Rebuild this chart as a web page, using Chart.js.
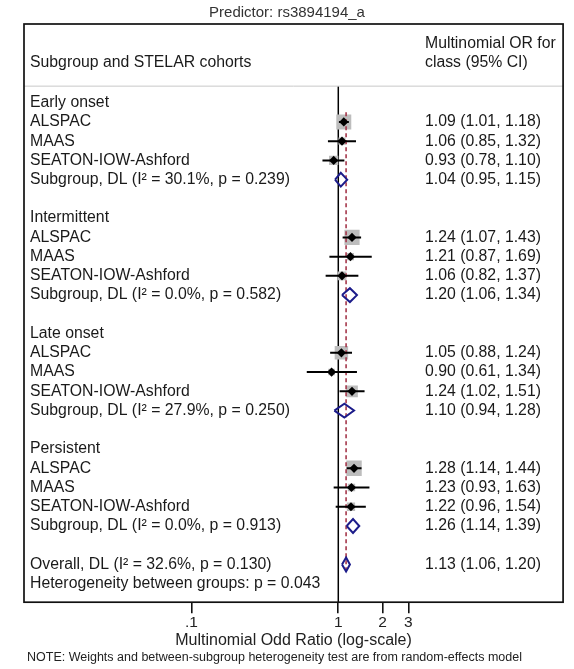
<!DOCTYPE html>
<html><head><meta charset="utf-8">
<script src="https://cdn.jsdelivr.net/npm/chart.js@4/dist/chart.umd.min.js"></script>
<style>html,body{margin:0;padding:0;background:#fff}#wrap{width:574px;height:669px;position:relative}</style>
</head><body><div id="wrap"><canvas id="c"></canvas></div>
<script>
// ---------- data ----------
const titleText = 'Predictor: rs3894194_a';
const headerLeft = 'Subgroup and STELAR cohorts';
const headerRight = ['Multinomial OR for', 'class (95% CI)'];
const groups = ['Early onset', 'Intermittent', 'Late onset', 'Persistent'];
const cohorts = ['ALSPAC', 'MAAS', 'SEATON-IOW-Ashford'];
const studyOR = [[1.09, 1.06, 0.93], [1.24, 1.21, 1.06], [1.05, 0.90, 1.24], [1.28, 1.23, 1.22]];
const studyLo = [[1.01, 0.85, 0.78], [1.07, 0.87, 0.82], [0.88, 0.61, 1.02], [1.14, 0.93, 0.96]];
const studyHi = [[1.18, 1.32, 1.10], [1.43, 1.69, 1.37], [1.24, 1.34, 1.51], [1.44, 1.63, 1.54]];
const studyWeight = [[62, 14, 24], [64, 14, 22], [50, 12, 38], [66, 15, 19]];
const subOR = [1.04, 1.20, 1.10, 1.26];
const subLo = [0.95, 1.06, 0.94, 1.14];
const subHi = [1.15, 1.34, 1.28, 1.39];
const subI2 = ['30.1', '0.0', '27.9', '0.0'];
const subP = ['0.239', '0.582', '0.250', '0.913'];
const overallOR = 1.13, overallLo = 1.06, overallHi = 1.20;
const overallI2 = '32.6', overallP = '0.130';
const hetP = '0.043';
const xTickValues = [0.1, 1, 2, 3];
const xTickLabels = ['.1', '1', '2', '3'];
const xTitle = 'Multinomial Odd Ratio (log-scale)';
const noteText = 'NOTE: Weights and between-subgroup heterogeneity test are from random-effects model';

// ---------- layout helpers ----------
const FONT = '"Liberation Sans", Arial, Helvetica, sans-serif';
const ROWS_PER_GROUP = 6;
const overallRow = groups.length * ROWS_PER_GROUP;
const hetRow = overallRow + 1;
const fmt = v => v.toFixed(2);
const ciText = (o, l, h) => `${fmt(o)} (${fmt(l)}, ${fmt(h)})`;

const leftLabels = [], rightLabels = [];
groups.forEach((g, gi) => {
  const base = gi * ROWS_PER_GROUP;
  leftLabels.push({ row: base, text: g });
  cohorts.forEach((c, ci) => {
    leftLabels.push({ row: base + 1 + ci, text: c });
    rightLabels.push({ row: base + 1 + ci, text: ciText(studyOR[gi][ci], studyLo[gi][ci], studyHi[gi][ci]) });
  });
  leftLabels.push({ row: base + 4, text: `Subgroup, DL (I\u00B2 = ${subI2[gi]}%, p = ${subP[gi]})` });
  rightLabels.push({ row: base + 4, text: ciText(subOR[gi], subLo[gi], subHi[gi]) });
});
leftLabels.push({ row: overallRow, text: `Overall, DL (I\u00B2 = ${overallI2}%, p = ${overallP})` });
rightLabels.push({ row: overallRow, text: ciText(overallOR, overallLo, overallHi) });
leftLabels.push({ row: hetRow, text: `Heterogeneity between groups: p = ${hetP}` });

const Y_MIN = -4.09, Y_MAX = 25.96;
const HEADER_SEP = -0.86;
const DIAM_H = 0.36;

// ---------- datasets ----------
const datasets = [];
const pts = [], sq = [], sqR = [];
groups.forEach((g, gi) => {
  cohorts.forEach((c, ci) => {
    const row = gi * ROWS_PER_GROUP + 1 + ci;
    pts.push({ x: studyOR[gi][ci], y: row });
    sq.push({ x: studyOR[gi][ci], y: row });
    sqR.push(1.9 * Math.sqrt(studyWeight[gi][ci]) / Math.SQRT2);
    datasets.push({
      data: [{ x: studyLo[gi][ci], y: row }, { x: studyHi[gi][ci], y: row }],
      showLine: true, borderColor: '#000', borderWidth: 2, pointRadius: 0, order: 7
    });
  });
});
// null line
datasets.push({
  data: [{ x: 1, y: HEADER_SEP }, { x: 1, y: Y_MAX }],
  showLine: true, borderColor: '#000', borderWidth: 1.5, pointRadius: 0, order: 10
});
// overall dashed line
datasets.push({
  data: [{ x: overallOR, y: 0.5 }, { x: overallOR, y: overallRow + 0.45 }],
  showLine: true, borderColor: 'rgb(165,55,75)', borderWidth: 1.6, borderDash: [4, 3], pointRadius: 0, order: 8
});
// weight squares
datasets.push({ data: sq, pointStyle: 'rect', pointRadius: sqR, backgroundColor: '#bdbdbd', borderWidth: 0, order: 9 });
// point estimates
datasets.push({ data: pts, pointStyle: 'rectRot', pointRadius: 4.6, backgroundColor: '#000', borderColor: '#000', borderWidth: 0, order: 6 });
// subgroup + overall diamonds
const diamond = (o, l, h, r) => [{ x: l, y: r }, { x: o, y: r - DIAM_H }, { x: h, y: r }, { x: o, y: r + DIAM_H }, { x: l, y: r }];
groups.forEach((g, gi) => {
  datasets.push({
    data: diamond(subOR[gi], subLo[gi], subHi[gi], gi * ROWS_PER_GROUP + 4),
    showLine: true, borderColor: '#1c1c8a', borderWidth: 2, pointRadius: 0, tension: 0, order: 5, borderJoinStyle: 'miter'
  });
});
datasets.push({
  data: diamond(overallOR, overallLo, overallHi, overallRow),
  showLine: true, borderColor: '#1c1c8a', borderWidth: 2, pointRadius: 0, tension: 0, order: 5, borderJoinStyle: 'miter'
});

// ---------- text / frame plugin ----------
const decor = {
  id: 'decor',
  afterDraw(chart) {
    const { ctx, chartArea: a, scales: { x, y } } = chart;
    ctx.save();
    // header separator
    const sepY = y.getPixelForValue(HEADER_SEP);
    ctx.strokeStyle = '#c8c8c8'; ctx.lineWidth = 1;
    ctx.beginPath(); ctx.moveTo(a.left, sepY); ctx.lineTo(a.right, sepY); ctx.stroke();
    // frame
    ctx.strokeStyle = '#111'; ctx.lineWidth = 1.7;
    ctx.strokeRect(a.left, a.top, a.right - a.left, a.bottom - a.top);
    // title
    ctx.fillStyle = '#333'; ctx.textBaseline = 'middle';
    ctx.font = `15px ${FONT}`; ctx.textAlign = 'center';
    ctx.fillText(titleText, chart.width / 2, 13);
    // header
    ctx.fillStyle = '#1a1a1a'; ctx.textAlign = 'left';
    ctx.font = `15.8px ${FONT}`;
    const leftX = a.left + 6, rightX = 425;
    ctx.fillText(headerLeft, leftX, 63);
    ctx.fillText(headerRight[0], rightX, 44);
    ctx.fillText(headerRight[1], rightX, 63);
    leftLabels.forEach(l => ctx.fillText(l.text, leftX, y.getPixelForValue(l.row)));
    rightLabels.forEach(l => ctx.fillText(l.text, rightX, y.getPixelForValue(l.row)));
    // note
    ctx.font = `12.5px ${FONT}`; ctx.fillStyle = '#222';
    ctx.fillText(noteText, 27, 658);
    ctx.restore();
  }
};

new Chart(document.getElementById('c'), {
  type: 'scatter',
  data: { datasets },
  options: {
    responsive: true, maintainAspectRatio: false, animation: false, events: [],
    layout: { padding: { top: 24, left: 24, right: 8, bottom: 19.6 } },
    plugins: { legend: { display: false }, tooltip: { enabled: false }, title: { display: false } },
    scales: {
      x: {
        type: 'logarithmic', min: 0.00723, max: 33.98,
        afterBuildTicks: s => { s.ticks = xTickValues.map(v => ({ value: v })); },
        ticks: {
          autoSkip: false, maxRotation: 0, padding: 0, color: '#222',
          font: { family: FONT, size: 15.5, lineHeight: 1.2 },
          callback: (v) => { const i = xTickValues.indexOf(v); return i >= 0 ? xTickLabels[i] : ''; }
        },
        grid: { drawOnChartArea: false, drawTicks: true, tickLength: 11, color: '#111', lineWidth: 1.6 },
        border: { display: false },
        title: { display: true, text: xTitle, color: '#222', padding: { top: 0, bottom: 0 }, font: { family: FONT, size: 16, lineHeight: 1.1 } }
      },
      y: { type: 'linear', min: Y_MIN, max: Y_MAX, reverse: true, display: false }
    }
  },
  plugins: [decor]
});
</script>
</body></html>
